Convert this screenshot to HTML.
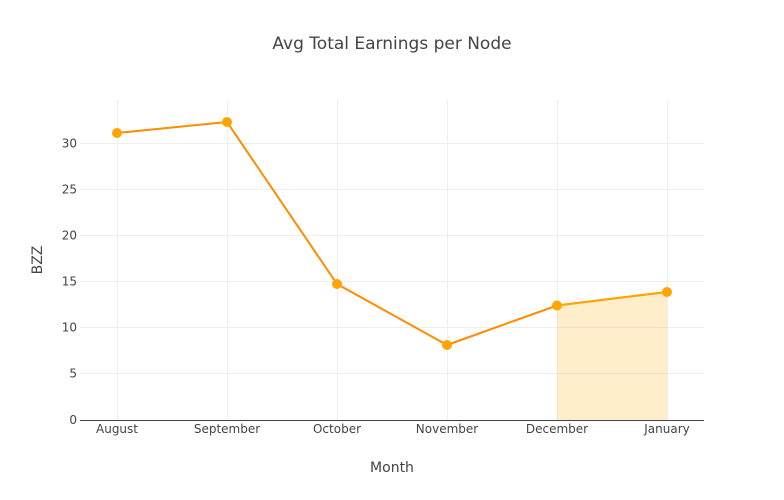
<!DOCTYPE html>
<html>
<head>
<meta charset="utf-8">
<style>
  html, body { margin: 0; padding: 0; background: #fff; }
  svg { display: block; }
  text { font-family: "DejaVu Sans", "Liberation Sans", sans-serif; fill: #444; }
</style>
</head>
<body>
<svg width="784" height="500" viewBox="0 0 784 500" xmlns="http://www.w3.org/2000/svg">
  <rect x="0" y="0" width="784" height="500" fill="#fff"/>

  <!-- vertical gridlines -->
  <g stroke="#eeeeee" stroke-width="1">
    <line x1="117.5" y1="100" x2="117.5" y2="420"/>
    <line x1="227.5" y1="100" x2="227.5" y2="420"/>
    <line x1="337.5" y1="100" x2="337.5" y2="420"/>
    <line x1="447.5" y1="100" x2="447.5" y2="420"/>
    <line x1="557.5" y1="100" x2="557.5" y2="420"/>
    <line x1="667.5" y1="100" x2="667.5" y2="420"/>
  </g>
  <!-- horizontal gridlines -->
  <g stroke="#eeeeee" stroke-width="1">
    <line x1="80" y1="143.5" x2="704" y2="143.5"/>
    <line x1="80" y1="189.5" x2="704" y2="189.5"/>
    <line x1="80" y1="235.5" x2="704" y2="235.5"/>
    <line x1="80" y1="281.5" x2="704" y2="281.5"/>
    <line x1="80" y1="327.5" x2="704" y2="327.5"/>
    <line x1="80" y1="373.5" x2="704" y2="373.5"/>
  </g>

  <!-- fill to zero (Dec-Jan) -->
  <polygon points="557,305.5 667,292 667,420 557,420" fill="rgba(255,165,0,0.2)"/>

  <!-- zero line -->
  <line x1="80" y1="420.5" x2="704" y2="420.5" stroke="#444" stroke-width="1"/>

  <!-- main line -->
  <polyline points="117,133 227,122 337,284 447,345 557,305.5 667,292" fill="none" stroke="#ff8c00" stroke-width="2" stroke-linejoin="round"/>
  <!-- fill trace line -->
  <polyline points="557,305.5 667,292" fill="none" stroke="#ffa500" stroke-width="2"/>

  <!-- markers -->
  <g fill="#ffa500">
    <circle cx="117" cy="133" r="5"/>
    <circle cx="227" cy="122" r="5"/>
    <circle cx="337" cy="284" r="5"/>
    <circle cx="447" cy="345" r="5"/>
    <circle cx="557" cy="305.5" r="5"/>
    <circle cx="667" cy="292" r="5"/>
  </g>

  <!-- y tick labels -->
  <g font-size="12" text-anchor="end">
    <text x="77" y="147.5">30</text>
    <text x="77" y="193.5">25</text>
    <text x="77" y="239.5">20</text>
    <text x="77" y="285.5">15</text>
    <text x="77" y="331.5">10</text>
    <text x="77" y="377.5">5</text>
    <text x="77" y="424">0</text>
  </g>

  <!-- x tick labels -->
  <g font-size="12" text-anchor="middle">
    <text x="117" y="433">August</text>
    <text x="227" y="433">September</text>
    <text x="337" y="433">October</text>
    <text x="447" y="433">November</text>
    <text x="557" y="433">December</text>
    <text x="667" y="433">January</text>
  </g>

  <!-- titles -->
  <text x="392" y="49" font-size="17" text-anchor="middle">Avg Total Earnings per Node</text>
  <text x="392" y="472" font-size="14" text-anchor="middle">Month</text>
  <text transform="translate(42,260) rotate(-90)" font-size="14" text-anchor="middle">BZZ</text>
</svg>
</body>
</html>
